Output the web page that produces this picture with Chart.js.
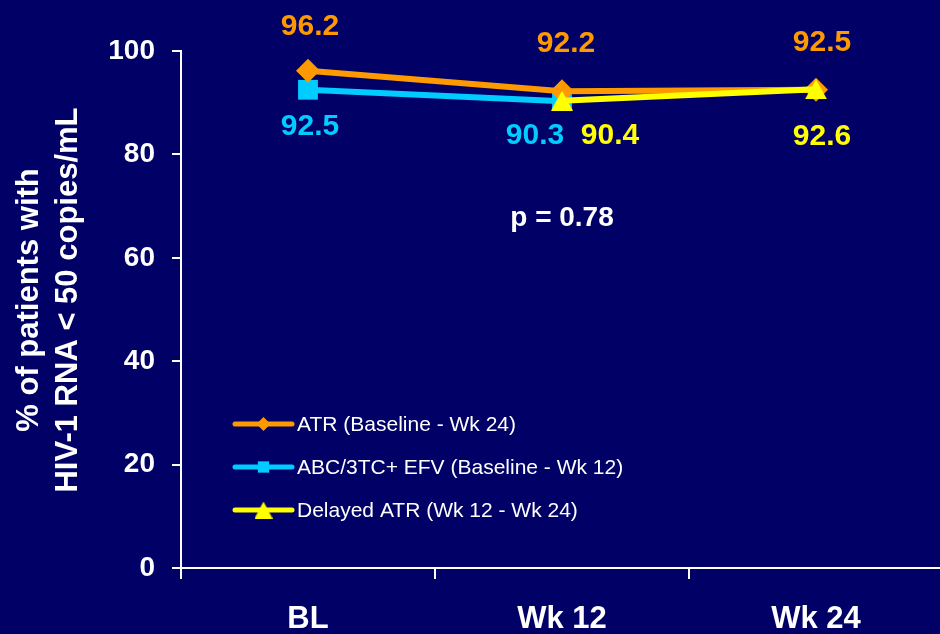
<!DOCTYPE html>
<html>
<head>
<meta charset="utf-8">
<script src="https://cdn.jsdelivr.net/npm/chart.js@4.4.0/dist/chart.umd.min.js"></script>
<style>
  html, body { margin: 0; padding: 0; background: #000066; overflow: hidden; width: 940px; height: 634px; }
  canvas { display: block; }
</style>
</head>
<body>
<canvas id="chart" width="957" height="634"></canvas>
<script>
// ---- data ----
const categories = ['BL', 'Wk 12', 'Wk 24'];
const atrValues = [96.2, 92.2, 92.5];
const abcEfvValues = [92.5, 90.3, null];
const delayedAtrValues = [null, 90.4, 92.6];
const seriesNames = [
  'ATR (Baseline - Wk 24)',
  'ABC/3TC+ EFV (Baseline - Wk 12)',
  'Delayed ATR (Wk 12 - Wk 24)'
];
const yTickValues = [0, 20, 40, 60, 80, 100];
const yTitleLines = ['% of patients with', 'HIV-1 RNA < 50 copies/mL'];
const pValueText = 'p = 0.78';

// ---- styling ----
const BG = '#000066';
const ORANGE = '#FF9900';
const CYAN = '#00CCFF';
const YELLOW = '#FFFF00';
const WHITE = '#FFFFFF';
const FONT = '"Liberation Sans", Arial, Helvetica, sans-serif';

// triangle marker centred on its bounding box
function triangleMarker(w, h, color) {
  const c = document.createElement('canvas');
  c.width = w; c.height = h;
  const g = c.getContext('2d');
  g.fillStyle = color;
  g.beginPath();
  g.moveTo(w / 2, 0);
  g.lineTo(w, h);
  g.lineTo(0, h);
  g.closePath();
  g.fill();
  return c;
}

// value label offsets (px) relative to each point
const valueLabelOffsets = [
  [[2, -44], [4, -48], [6, -47]],
  [[2, 37], [-27, 35], null],
  [null, [48, 35], [6, 47]]
];

const legendLayout = { x: 235, lineLen: 57, textGap: 5, firstY: 424, rowGap: 43 };

const background = {
  id: 'background',
  beforeDraw(chart) {
    const { ctx, width, height } = chart;
    ctx.save();
    ctx.fillStyle = BG;
    ctx.fillRect(0, 0, width, height);
    ctx.restore();
  }
};

const annotations = {
  id: 'annotations',
  afterDatasetsDraw(chart) {
    const { ctx } = chart;
    ctx.save();
    // value labels
    ctx.font = 'bold 30px ' + FONT;
    ctx.textAlign = 'center';
    ctx.textBaseline = 'middle';
    chart.data.datasets.forEach((ds, di) => {
      const meta = chart.getDatasetMeta(di);
      ds.data.forEach((v, i) => {
        if (v === null) return;
        const off = valueLabelOffsets[di][i];
        const pt = meta.data[i];
        ctx.fillStyle = ds.borderColor;
        ctx.fillText(v.toFixed(1), pt.x + off[0], pt.y + off[1]);
      });
    });

    // p-value
    ctx.fillStyle = WHITE;
    ctx.font = 'bold 28px ' + FONT;
    ctx.fillText(pValueText, chart.scales.x.getPixelForValue(1), chart.scales.y.getPixelForValue(67.7));

    // y axis title
    ctx.font = 'bold 31px ' + FONT;
    const cy = 300;
    [29, 68].forEach((x, i) => {
      ctx.save();
      ctx.translate(x, cy);
      ctx.rotate(-Math.PI / 2);
      ctx.fillText(yTitleLines[i], 0, 0);
      ctx.restore();
    });

    // legend
    ctx.font = '21px ' + FONT;
    ctx.textAlign = 'left';
    chart.data.datasets.forEach((ds, i) => {
      const y = legendLayout.firstY + i * legendLayout.rowGap;
      const x0 = legendLayout.x;
      const x1 = x0 + legendLayout.lineLen;
      ctx.strokeStyle = ds.borderColor;
      ctx.lineWidth = 5;
      ctx.lineCap = 'round';
      ctx.beginPath();
      ctx.moveTo(x0, y);
      ctx.lineTo(x1, y);
      ctx.stroke();
      ctx.fillStyle = ds.borderColor;
      Chart.helpers.drawPoint(ctx, {
        pointStyle: ds.legendMarker.style,
        radius: ds.legendMarker.radius,
        rotation: 0,
        borderWidth: 0
      }, (x0 + x1) / 2, y);
      ctx.fillStyle = WHITE;
      ctx.fillText(ds.label, x1 + legendLayout.textGap, y + 1);
    });
    ctx.restore();
  }
};

new Chart(document.getElementById('chart'), {
  type: 'line',
  data: {
    labels: categories,
    datasets: [
      {
        label: seriesNames[0],
        data: atrValues,
        borderColor: ORANGE,
        backgroundColor: ORANGE,
        pointBackgroundColor: ORANGE,
        borderWidth: 6,
        pointStyle: 'rectRot',
        pointRadius: 12,
        pointBorderWidth: 0,
        order: 2,
        legendMarker: { style: 'rectRot', radius: 7 }
      },
      {
        label: seriesNames[1],
        data: abcEfvValues,
        borderColor: CYAN,
        backgroundColor: CYAN,
        pointBackgroundColor: CYAN,
        borderWidth: 6,
        pointStyle: 'rect',
        pointRadius: 14,
        pointBorderWidth: 0,
        order: 3,
        legendMarker: { style: 'rect', radius: 8 }
      },
      {
        label: seriesNames[2],
        data: delayedAtrValues,
        borderColor: YELLOW,
        backgroundColor: YELLOW,
        pointBackgroundColor: YELLOW,
        borderWidth: 6,
        pointStyle: triangleMarker(22, 20, YELLOW),
        pointRadius: 12,
        pointBorderWidth: 0,
        order: 1,
        legendMarker: { style: triangleMarker(18, 17, YELLOW), radius: 9 }
      }
    ]
  },
  options: {
    responsive: false,
    animation: false,
    events: [],
    layout: { padding: { top: 51, right: 3, bottom: 0, left: 0 } },
    plugins: { legend: { display: false }, tooltip: { enabled: false }, title: { display: false } },
    scales: {
      x: {
        type: 'category',
        offset: true,
        grid: {
          offset: true,
          drawOnChartArea: false,
          drawTicks: true,
          tickLength: 11,
          color: WHITE,
          lineWidth: 2
        },
        border: { display: true, color: WHITE, width: 2 },
        ticks: {
          color: WHITE,
          font: { family: FONT, size: 31, weight: 'bold' },
          padding: 22,
          maxRotation: 0
        },
        afterFit(scale) {
          scale.height = 66;
          scale.paddingLeft = 0;
          scale.paddingRight = 0;
        }
      },
      y: {
        min: 0,
        max: 100,
        afterBuildTicks(scale) { scale.ticks = yTickValues.map(v => ({ value: v })); },
        grid: {
          drawOnChartArea: false,
          drawTicks: true,
          tickLength: 9,
          color: WHITE,
          lineWidth: 2
        },
        border: { display: true, color: WHITE, width: 2 },
        ticks: {
          color: WHITE,
          font: { family: FONT, size: 28, weight: 'bold' },
          padding: 17
        },
        afterFit(scale) {
          scale.width = 181;
          scale.paddingTop = 0;
          scale.paddingBottom = 0;
        }
      }
    }
  },
  plugins: [background, annotations]
});
</script>
</body>
</html>
